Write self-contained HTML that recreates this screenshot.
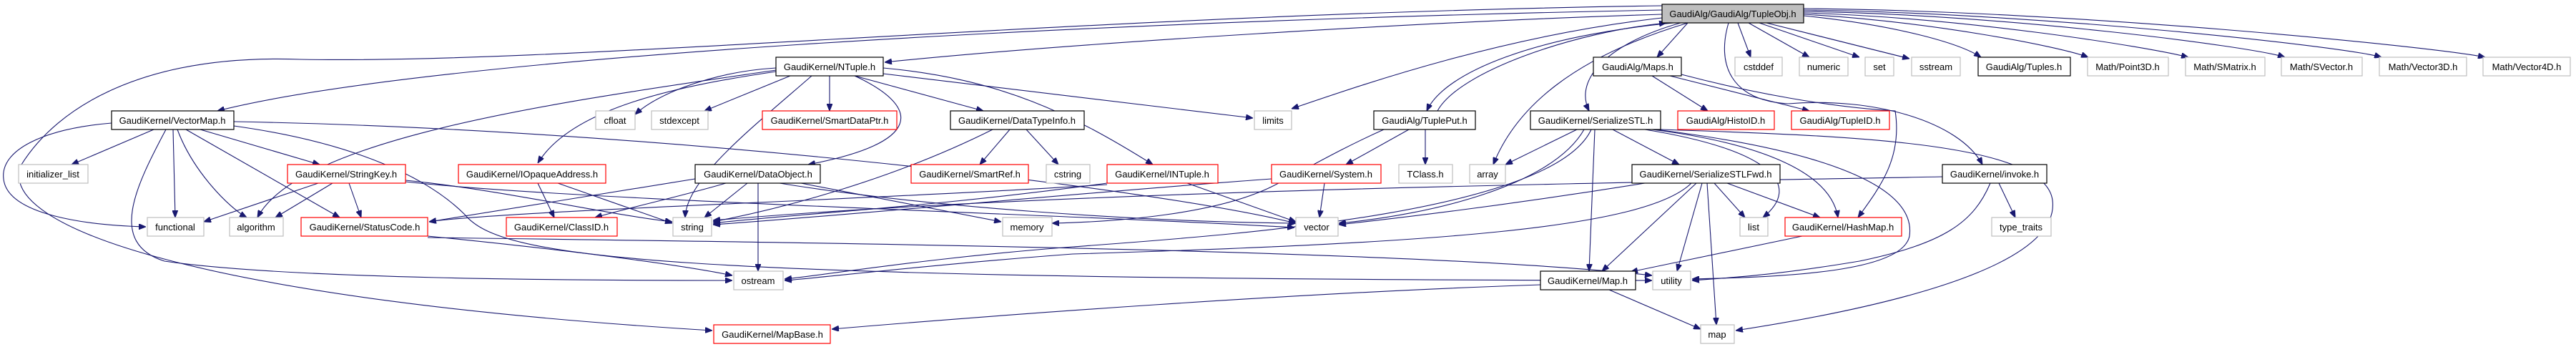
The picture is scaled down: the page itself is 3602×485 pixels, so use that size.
<!DOCTYPE html>
<html><head><meta charset="utf-8"><style>
html,body{margin:0;padding:0;background:#fff;width:3602px;height:485px;overflow:hidden}
svg{display:block}
text{font-family:"Liberation Sans",sans-serif;font-size:13px;fill:#000;text-anchor:middle}
.g{fill:#fff;stroke:#bfbfbf;stroke-width:1.2}
.r{fill:#fff;stroke:#ff0000;stroke-width:1.2}
.b{fill:#fff;stroke:#000;stroke-width:1.2}
.e path{fill:none;stroke:#191970;stroke-width:1.1;marker-end:url(#a)}
</style></head><body>
<svg width="3602" height="485" viewBox="0 0 3602 485" xmlns="http://www.w3.org/2000/svg">
<defs><marker id="a" viewBox="0 0 10 8" refX="10" refY="4" markerWidth="10" markerHeight="8" markerUnits="userSpaceOnUse" orient="auto"><path d="M0,0 L10,4 L0,8 z" fill="#191970" stroke="#191970"/></marker></defs>
<g class="e">
<path d="M2360 32 L2317 80"/><path d="M2430 32 L2448 80"/><path d="M2445 32 L2530 80"/><path d="M2460 32 L2600 80"/><path d="M2470 32 L2670 82"/>
<path d="M2522 22 C2650 35 2740 60 2770 80"/><path d="M2522 20 C2700 30 2880 65 2920 80"/><path d="M2522 18 C2750 25 3000 65 3060 80"/><path d="M2522 16 C2800 20 3150 65 3195 80"/><path d="M2522 14 C2850 18 3280 65 3330 80"/><path d="M2522 12 C2900 15 3400 65 3475 80"/>
<path d="M2324 20 C2000 30 1500 60 1237 87"/>
<path d="M2324 14 C1500 30 600 80 304 155"/>
<path d="M2324 8 C1500 20 800 90 420 83 C200 75 80 150 30 230 C-10 320 300 420 996 462"/>
<path d="M156 172 C60 180 0 210 5 250 C10 300 120 315 204 317"/>
<path d="M2340 32 C2150 50 2020 100 1995 155"/><path d="M2010 155 C2040 100 2200 45 2330 32"/>
<path d="M2350 32 C2250 60 2200 110 2222 155"/>
<path d="M2360 32 C2200 80 2120 150 2088 230"/>
<path d="M2324 25 C2100 50 1900 120 1806 152"/>
<path d="M2417 32 C2400 90 2420 140 2500 145 C2620 135 2740 170 2772 230"/>
<path d="M2351 104 C2450 130 2560 150 2650 155 C2660 220 2630 260 2598 304"/>
<path d="M2322 181 C2600 190 2860 200 2870 280 C2880 360 2700 420 2427 462"/>
<path d="M2310 106 L2388 155"/><path d="M2335 106 L2530 155"/>
<path d="M1085 95 C1000 100 920 130 888 160"/><path d="M1105 106 L985 155"/><path d="M1135 106 C1050 180 960 250 958 304"/><path d="M1160 106 L1160 155"/><path d="M1195 106 C1290 150 1290 200 1130 230"/><path d="M1195 106 L1375 155"/><path d="M1235 95 C1400 110 1500 160 1612 230"/><path d="M1235 103 L1752 165"/><path d="M1085 98 C800 140 420 190 360 304"/><path d="M1085 100 C950 120 800 150 752 228"/>
<path d="M215 181 L100 230"/><path d="M242 181 L245 304"/><path d="M248 181 C270 240 320 290 345 304"/><path d="M280 181 L447 230"/><path d="M260 181 L475 304"/>
<path d="M232 181 C190 260 150 340 230 365 C400 390 800 392 1024 392"/>
<path d="M327 170 C900 180 1600 260 1812 312"/>
<path d="M327 176 C500 200 600 250 650 300 C700 360 900 390 2310 392"/>
<path d="M445 256 L285 310"/><path d="M465 256 L385 304"/><path d="M488 256 L505 304"/><path d="M567 252 C700 265 850 300 940 310"/><path d="M567 254 C800 280 1500 300 1810 318"/>
<path d="M752 256 L775 304"/><path d="M780 256 L940 312"/>
<path d="M1045 256 L985 304"/><path d="M1060 256 L1060 379"/><path d="M1015 256 C950 275 880 290 832 304"/><path d="M972 250 L600 310"/><path d="M1120 256 L1400 310"/><path d="M1090 256 C1300 290 1600 310 1812 312"/>
<path d="M1412 181 L1370 230"/><path d="M1435 181 L1480 230"/><path d="M1388 181 C1250 250 1100 290 997 310"/>
<path d="M1548 256 C1300 290 1100 300 997 312"/><path d="M1548 258 C1200 280 700 295 600 310"/><path d="M1660 256 L1812 310"/>
<path d="M1852 256 L1845 304"/><path d="M1778 250 C1500 270 1200 300 997 314"/>
<path d="M1970 181 L1882 230"/><path d="M1993 181 L1993 230"/><path d="M1935 181 C1870 210 1820 240 1780 260 C1700 300 1560 310 1471 312"/>
<path d="M2205 181 L2105 230"/><path d="M2255 181 L2348 230"/><path d="M2215 181 C2170 260 2000 300 1872 312"/><path d="M2225 181 C2170 300 1700 330 1500 345 C1300 360 1150 385 1097 390"/><path d="M2230 181 L2222 379"/><path d="M2300 181 C2480 210 2520 260 2465 304"/><path d="M2310 181 C2460 200 2560 240 2570 304"/><path d="M2315 181 C2550 210 2680 260 2670 330 C2660 380 2500 387 2366 390"/>
<path d="M2300 256 C2150 280 2000 300 1872 314"/><path d="M2365 256 C2300 320 2000 340 1500 355 C1300 370 1150 388 1097 392"/><path d="M2372 256 L2240 379"/><path d="M2380 256 L2345 379"/><path d="M2387 256 L2400 454"/><path d="M2397 256 L2440 304"/><path d="M2415 256 L2545 304"/>
<path d="M2520 330 L2280 380"/><path d="M2250 405 L2378 460"/><path d="M2154 398 C1800 410 1400 440 1163 460"/>
<path d="M598 330 C800 350 950 370 1024 385"/><path d="M598 332 C1200 340 2000 350 2310 385"/>
<path d="M2795 256 L2818 304"/><path d="M2783 256 C2760 310 2720 340 2600 365 C2480 385 2420 388 2366 392"/><path d="M2716 247 C2300 255 1500 265 997 308"/>
</g>
<g>
<rect x="2324" y="6" width="198" height="26" fill="#bfbfbf" stroke="#000" stroke-width="1.2"/><text x="2423" y="24">GaudiAlg/GaudiAlg/TupleObj.h</text>
<rect class="b" x="1085" y="80" width="150" height="26"/><text x="1160" y="98">GaudiKernel/NTuple.h</text>
<rect class="b" x="2228" y="80" width="123" height="26"/><text x="2290" y="98">GaudiAlg/Maps.h</text>
<rect class="g" x="2426" y="80" width="66" height="26"/><text x="2459" y="98">cstddef</text>
<rect class="g" x="2516" y="80" width="68" height="26"/><text x="2550" y="98">numeric</text>
<rect class="g" x="2608" y="80" width="40" height="26"/><text x="2628" y="98">set</text>
<rect class="g" x="2673" y="80" width="68" height="26"/><text x="2707" y="98">sstream</text>
<rect class="b" x="2766" y="80" width="129" height="26"/><text x="2830" y="98">GaudiAlg/Tuples.h</text>
<rect class="g" x="2919" y="80" width="113" height="26"/><text x="2975" y="98">Math/Point3D.h</text>
<rect class="g" x="3056" y="80" width="111" height="26"/><text x="3111" y="98">Math/SMatrix.h</text>
<rect class="g" x="3190" y="80" width="113" height="26"/><text x="3246" y="98">Math/SVector.h</text>
<rect class="g" x="3327" y="80" width="122" height="26"/><text x="3388" y="98">Math/Vector3D.h</text>
<rect class="g" x="3472" y="80" width="122" height="26"/><text x="3533" y="98">Math/Vector4D.h</text>
<rect class="b" x="156" y="155" width="171" height="26"/><text x="241" y="173">GaudiKernel/VectorMap.h</text>
<rect class="g" x="833" y="155" width="55" height="26"/><text x="860" y="173">cfloat</text>
<rect class="g" x="911" y="155" width="79" height="26"/><text x="950" y="173">stdexcept</text>
<rect class="r" x="1066" y="155" width="188" height="26"/><text x="1160" y="173">GaudiKernel/SmartDataPtr.h</text>
<rect class="b" x="1329" y="155" width="187" height="26"/><text x="1422" y="173">GaudiKernel/DataTypeInfo.h</text>
<rect class="g" x="1754" y="155" width="52" height="26"/><text x="1780" y="173">limits</text>
<rect class="b" x="1921" y="155" width="142" height="26"/><text x="1992" y="173">GaudiAlg/TuplePut.h</text>
<rect class="b" x="2140" y="155" width="182" height="26"/><text x="2231" y="173">GaudiKernel/SerializeSTL.h</text>
<rect class="r" x="2346" y="155" width="135" height="26"/><text x="2413" y="173">GaudiAlg/HistoID.h</text>
<rect class="r" x="2505" y="155" width="137" height="26"/><text x="2573" y="173">GaudiAlg/TupleID.h</text>
<rect class="g" x="26" y="230" width="97" height="26"/><text x="74" y="248">initializer_list</text>
<rect class="r" x="402" y="230" width="165" height="26"/><text x="484" y="248">GaudiKernel/StringKey.h</text>
<rect class="r" x="641" y="230" width="206" height="26"/><text x="744" y="248">GaudiKernel/IOpaqueAddress.h</text>
<rect class="b" x="972" y="230" width="175" height="26"/><text x="1060" y="248">GaudiKernel/DataObject.h</text>
<rect class="r" x="1274" y="230" width="164" height="26"/><text x="1356" y="248">GaudiKernel/SmartRef.h</text>
<rect class="g" x="1463" y="230" width="61" height="26"/><text x="1493" y="248">cstring</text>
<rect class="r" x="1548" y="230" width="155" height="26"/><text x="1625" y="248">GaudiKernel/INTuple.h</text>
<rect class="r" x="1778" y="230" width="153" height="26"/><text x="1854" y="248">GaudiKernel/System.h</text>
<rect class="g" x="1956" y="230" width="75" height="26"/><text x="1993" y="248">TClass.h</text>
<rect class="g" x="2055" y="230" width="50" height="26"/><text x="2080" y="248">array</text>
<rect class="b" x="2282" y="230" width="207" height="26"/><text x="2385" y="248">GaudiKernel/SerializeSTLFwd.h</text>
<rect class="b" x="2716" y="230" width="146" height="26"/><text x="2789" y="248">GaudiKernel/invoke.h</text>
<rect class="g" x="206" y="304" width="79" height="26"/><text x="245" y="322">functional</text>
<rect class="g" x="321" y="304" width="75" height="26"/><text x="358" y="322">algorithm</text>
<rect class="r" x="421" y="304" width="177" height="26"/><text x="510" y="322">GaudiKernel/StatusCode.h</text>
<rect class="r" x="708" y="304" width="155" height="26"/><text x="785" y="322">GaudiKernel/ClassID.h</text>
<rect class="g" x="941" y="304" width="54" height="26"/><text x="968" y="322">string</text>
<rect class="g" x="1402" y="304" width="69" height="26"/><text x="1436" y="322">memory</text>
<rect class="g" x="1812" y="304" width="59" height="26"/><text x="1841" y="322">vector</text>
<rect class="g" x="2433" y="304" width="39" height="26"/><text x="2452" y="322">list</text>
<rect class="r" x="2496" y="304" width="163" height="26"/><text x="2577" y="322">GaudiKernel/HashMap.h</text>
<rect class="g" x="2785" y="304" width="83" height="26"/><text x="2826" y="322">type_traits</text>
<rect class="g" x="1026" y="379" width="69" height="26"/><text x="1060" y="397">ostream</text>
<rect class="b" x="2154" y="379" width="133" height="26"/><text x="2220" y="397">GaudiKernel/Map.h</text>
<rect class="g" x="2311" y="379" width="53" height="26"/><text x="2337" y="397">utility</text>
<rect class="r" x="998" y="454" width="163" height="26"/><text x="1080" y="472">GaudiKernel/MapBase.h</text>
<rect class="g" x="2378" y="454" width="47" height="26"/><text x="2401" y="472">map</text>
</g>
</svg>
</body></html>
